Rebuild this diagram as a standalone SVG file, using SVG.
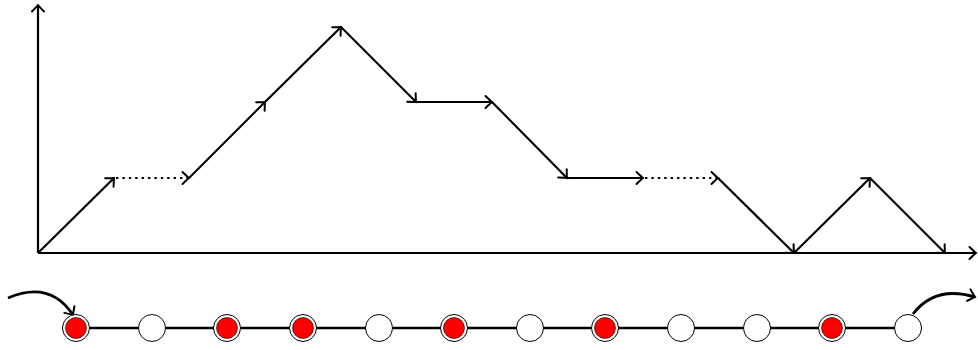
<svg xmlns="http://www.w3.org/2000/svg" width="978" height="350" viewBox="0 0 978 350">
<style>
.seg{stroke:#000;stroke-width:2.2;fill:none;marker-end:url(#to)}
.dot{stroke-dasharray:2.4 4}
.ax{stroke:#000;stroke-width:2.2;fill:none;marker-end:url(#to)}
.cur{stroke-width:2.8}
.wc{fill:#fff;stroke:#000;stroke-width:1}
.rc{fill:#f00;stroke:#000;stroke-width:0.6}
</style>
<defs>
<marker id="to" markerUnits="userSpaceOnUse" viewBox="-10 -8 12 16" refX="0" refY="0" markerWidth="12" markerHeight="16" orient="auto" overflow="visible">
<path d="M-6.5,-6 Q-1.5,-1.2 0,0 Q-1.5,1.2 -6.5,6" fill="none" stroke="#000" stroke-width="2" stroke-linecap="round"/>
</marker>
</defs>
<g id="axes">
<line class="ax" x1="38" y1="253" x2="38" y2="5"/>
<line class="ax" x1="38" y1="253" x2="976" y2="253"/>
</g>
<g id="connectors">
<line class="seg" x1="38" y1="253" x2="114" y2="178"/>
<line class="seg dot" x1="116" y1="178" x2="189" y2="178"/>
<line class="seg" x1="189" y1="178" x2="265" y2="102"/>
<line class="seg" x1="265" y1="102" x2="341" y2="27"/>
<line class="seg" x1="341" y1="27" x2="416" y2="102"/>
<line class="seg" x1="416" y1="102" x2="492" y2="102"/>
<line class="seg" x1="492" y1="102" x2="567" y2="178"/>
<line class="seg" x1="567" y1="178" x2="643" y2="178"/>
<line class="seg dot" x1="645" y1="178" x2="718" y2="178"/>
<line class="seg" x1="718" y1="178" x2="794" y2="253"/>
<line class="seg" x1="794" y1="253" x2="870" y2="178"/>
<line class="seg" x1="870" y1="178" x2="945" y2="253"/>
<line x1="76" y1="328" x2="908" y2="328" stroke="#000" stroke-width="2.4"/>
<path class="seg cur" d="M8,298 Q50,280 73,315"/>
<path class="seg cur" d="M913,314 Q935,285 975,297"/>
</g>
<g id="n1"><circle class="wc" cx="76" cy="328" r="13.5"/><circle class="rc" cx="76" cy="328" r="10.5"/></g>
<g id="n2"><circle class="wc" cx="152" cy="328" r="13.5"/></g>
<g id="n3"><circle class="wc" cx="227" cy="328" r="13.5"/><circle class="rc" cx="227" cy="328" r="10.5"/></g>
<g id="n4"><circle class="wc" cx="303" cy="328" r="13.5"/><circle class="rc" cx="303" cy="328" r="10.5"/></g>
<g id="n5"><circle class="wc" cx="379" cy="328" r="13.5"/></g>
<g id="n6"><circle class="wc" cx="454" cy="328" r="13.5"/><circle class="rc" cx="454" cy="328" r="10.5"/></g>
<g id="n7"><circle class="wc" cx="530" cy="328" r="13.5"/></g>
<g id="n8"><circle class="wc" cx="605" cy="328" r="13.5"/><circle class="rc" cx="605" cy="328" r="10.5"/></g>
<g id="n9"><circle class="wc" cx="681" cy="328" r="13.5"/></g>
<g id="n10"><circle class="wc" cx="757" cy="328" r="13.5"/></g>
<g id="n11"><circle class="wc" cx="832" cy="328" r="13.5"/><circle class="rc" cx="832" cy="328" r="10.5"/></g>
<g id="n12"><circle class="wc" cx="908" cy="328" r="13.5"/></g>
</svg>
